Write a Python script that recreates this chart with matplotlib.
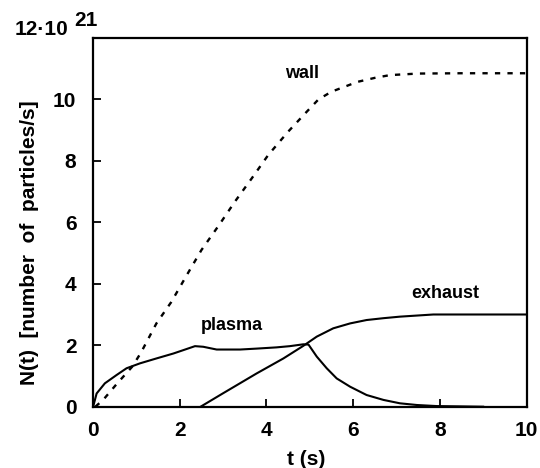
import matplotlib
matplotlib.use("Agg")
import matplotlib.pyplot as plt

plt.rcParams['font.family'] = ['Liberation Sans', 'DejaVu Sans']
plt.rcParams['font.weight'] = 'bold'
plt.rcParams['lines.scale_dashes'] = False

# wall (dashed)
wall_t = [0.05, 0.23, 0.55, 0.9, 1.1, 1.46, 1.8, 2.16, 2.5, 2.9, 3.27, 3.66, 4.04, 4.5, 4.93,
          5.2, 5.5, 5.8, 6.1, 6.5, 6.85, 7.5, 8.5, 10.0]
wall_n = [0.0, 0.22, 0.75, 1.3, 1.75, 2.71, 3.4, 4.28, 5.1, 5.9, 6.67, 7.43, 8.19, 8.95, 9.6,
          10.0, 10.25, 10.41, 10.57, 10.7, 10.79, 10.84, 10.85, 10.85]

# plasma
plasma_t = [0.0, 0.08, 0.27, 0.54, 0.77, 1.08, 1.46, 1.85, 2.08, 2.35, 2.54, 2.85, 3.39, 3.77,
            4.23, 4.54, 4.85, 4.97, 5.16, 5.39, 5.62, 5.93, 6.31, 6.7, 7.08, 7.47, 7.93, 8.5, 9.0]
plasma_n = [0.0, 0.43, 0.76, 1.03, 1.25, 1.41, 1.57, 1.73, 1.84, 1.97, 1.95, 1.86, 1.86, 1.89,
            1.93, 1.97, 2.03, 2.02, 1.63, 1.25, 0.92, 0.65, 0.38, 0.22, 0.11, 0.055, 0.02, 0.01, 0.0]

# exhaust
exhaust_t = [2.48, 2.99, 3.77, 4.39, 4.85, 5.16, 5.54, 5.93, 6.31, 6.7, 7.08, 7.85, 10.0]
exhaust_n = [0.0, 0.43, 1.08, 1.57, 1.98, 2.28, 2.55, 2.71, 2.82, 2.88, 2.93, 3.0, 3.0]

xticks = [0, 2, 4, 6, 8, 10]
yticks = [0, 2, 4, 6, 8, 10]

fig = plt.figure(figsize=(5.4, 4.68), dpi=100)
ax = fig.add_axes([0.1725, 0.131, 0.8025, 0.788])

ax.plot(wall_t, wall_n, color='black', lw=1.7, dashes=(3.8, 5.2))
ax.plot(plasma_t, plasma_n, color='black', lw=1.5)
ax.plot(exhaust_t, exhaust_n, color='black', lw=1.5)

ax.set_xlim(0, 10)
ax.set_ylim(0, 12)
ax.set_xticks(xticks)
ax.set_yticks(yticks)
ax.set_xticklabels([str(v) for v in xticks], fontsize=15, fontweight='bold')
ax.set_yticklabels([str(v) for v in yticks], fontsize=15, fontweight='bold')
ax.tick_params(axis='both', direction='in', length=6, width=1.3, top=False, right=False)
ax.tick_params(axis='x', pad=10)
ax.tick_params(axis='y', pad=12)
for s in ax.spines.values():
    s.set_linewidth(1.6)

ax.set_xlabel('t (s)', fontsize=15, fontweight='bold')
ax.set_ylabel('N(t)  [number  of  particles/s]', fontsize=15, fontweight='bold')
ax.xaxis.label.set_va('center')
ax.yaxis.label.set_va('center')
ax.xaxis.set_label_coords(0.491, -0.142)
ax.yaxis.set_label_coords(-0.146, 0.444)

ax.text(4.82, 10.85, 'wall', ha='center', va='center', fontsize=13, fontweight='bold')
ax.text(3.2, 2.63, 'plasma', ha='center', va='center', fontsize=13, fontweight='bold')
ax.text(8.12, 3.69, 'exhaust', ha='center', va='center', fontsize=13, fontweight='bold')

fig.text(0.028, 0.937, '12\u00b710', fontsize=15, fontweight='bold', ha='left', va='center')
fig.text(0.137, 0.957, '21', fontsize=15, fontweight='bold', ha='left', va='center')

fig.savefig('out.png', dpi=100)
